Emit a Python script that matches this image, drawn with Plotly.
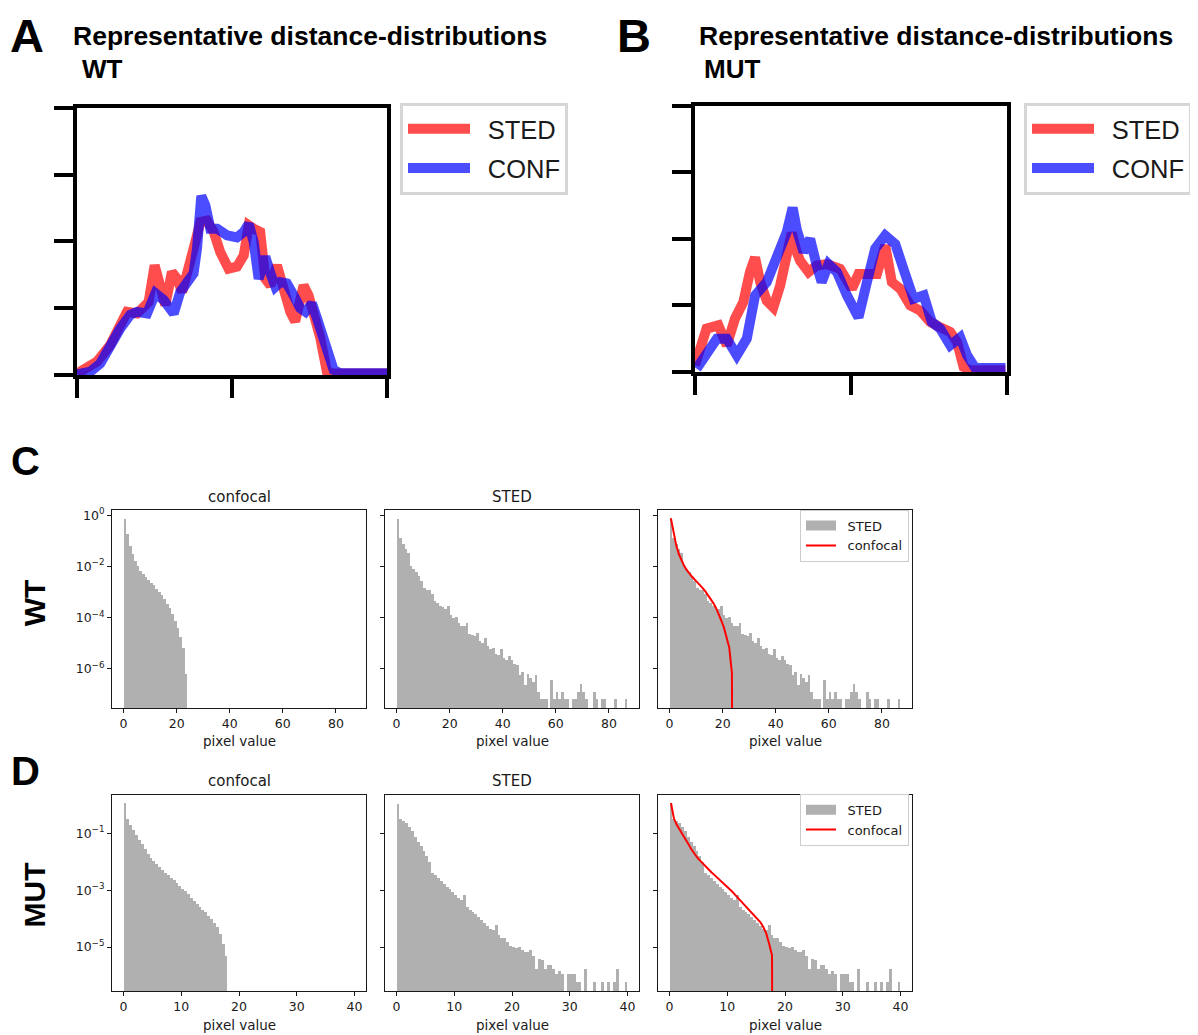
import plotly.graph_objects as go

W, H = 1198, 1035
OFF = 8                      # browser body margin
FW, FH = W - OFF, H - OFF    # figure size so the page fits the window

# ---------------- Panel A (WT) representative distance distributions ----------------
a_sted_x = [0, 6.45, 10.75, 13.98, 16.13, 19.35, 21.5, 23.1, 25.05, 26.9,
            28.5, 30.6, 32.3, 33.9, 35.5, 37.6, 39.8, 41.9, 44.1, 46.2,
            48.9, 51.6, 53.8, 55.4, 57.0, 59.1, 60.75, 62.4, 64.5, 66.7,
            68.8, 70.4, 71.5, 73.1, 74.7, 76.3, 78.5, 80.6, 82.8, 100]
a_sted_y = [0.02, 0.20, 0.45, 0.75, 0.945, 0.92, 1.0, 1.09, 1.64, 1.24,
            1.045, 1.54, 1.44, 1.24, 1.47, 1.89, 2.29, 2.31, 2.14, 1.84,
            1.59, 1.62, 1.79, 2.24, 2.19, 2.14, 1.44, 1.34, 1.64, 1.24,
            0.945, 0.80, 1.0, 1.34, 1.19, 0.945, 0.55, 0.05, 0.02, 0.02]
a_conf_x = [0, 4.3, 7.5, 10.75, 14.0, 17.2, 19.35, 22.6, 25.3, 27.96,
            31.2, 33.3, 35.5, 37.6, 38.7, 40.1, 41.4, 43.0, 45.2, 48.4,
            51.6, 53.8, 55.4, 57.0, 58.6, 60.75, 62.4, 64.0, 65.6, 67.7,
            69.9, 72.0, 73.7, 75.8, 77.4, 79.6, 82.8, 84.9, 100]
a_conf_y = [0.01, 0.05, 0.17, 0.45, 0.70, 0.90, 0.945, 0.92, 1.22, 1.12,
            0.92, 1.24, 1.39, 1.52, 1.89, 2.68, 2.54, 2.19, 2.19, 2.09,
            2.06, 2.14, 2.26, 1.99, 1.44, 1.77, 1.52, 1.32, 1.39, 1.37,
            1.19, 1.0, 0.945, 1.07, 0.85, 0.50, 0.075, 0.025, 0.025]

# ---------------- Panel B (MUT) representative distance distributions ----------------
b_sted_x = [0, 3.7, 7.5, 10.2, 12.8, 15.5, 17.6, 19.25, 20.9, 23.0,
            25.1, 27.3, 29.4, 31.0, 32.6, 33.7, 36.4, 39.0, 42.2, 46.5,
            50.3, 52.4, 55.6, 58.3, 60.95, 63.1, 65.8, 69.0, 72.2, 75.4,
            78.6, 81.8, 84.0, 86.1, 88.2, 99.5]
b_sted_y = [0.10, 0.65, 0.70, 0.40, 0.80, 1.05, 1.50, 1.72, 1.35, 1.07,
            0.97, 1.30, 1.75, 2.09, 1.80, 1.67, 1.50, 1.60, 1.62, 1.55,
            1.25, 1.47, 1.47, 1.47, 1.90, 1.35, 1.25, 1.00, 0.92, 0.75,
            0.67, 0.60, 0.45, 0.075, 0.025, 0.025]
b_conf_x = [0.5, 3.7, 7.0, 10.2, 13.4, 16.6, 19.25, 23.0, 26.7, 29.4,
            31.3, 32.6, 34.8, 36.9, 39.0, 40.6, 42.8, 45.5, 48.7, 52.4,
            55.1, 57.75, 60.95, 64.2, 66.8, 70.05, 73.3, 75.9, 78.6, 81.8,
            85.0, 87.2, 89.8, 99.5]
b_conf_y = [0.05, 0.30, 0.50, 0.50, 0.25, 0.50, 1.15, 1.35, 1.82, 2.10,
            2.47, 2.14, 1.80, 2.00, 1.60, 1.35, 1.62, 1.50, 1.15, 0.82,
            1.35, 1.85, 2.05, 1.92, 1.55, 1.10, 1.15, 0.75, 0.65, 0.40,
            0.52, 0.25, 0.06, 0.06]

# ---------------- Histograms (log10 of density, None = empty bin) ----------------
wt_bin_width = 1.0
mut_bin_width = 0.5

wt_conf_log10 = [-0.12, -0.73, -1.17, -1.52, -1.79, -1.98, -2.15, -2.29, -2.41, -2.52,
                 -2.62, -2.73, -2.85, -2.98, -3.12, -3.27, -3.44, -3.63, -3.86, -4.12,
                 -4.40, -4.74, -5.18, -6.18]

wt_sted_log10 = [-0.13, -0.86, -1.12, -1.30, -1.45, -1.98, -2.10, -2.22, -2.38, -2.55,
                 -2.82, -2.90, -2.92, -3.05, -3.35, -3.42, -3.52, -3.58, -3.66, -3.55,
                 -3.90, -4.02, -3.98, -4.20, -4.30, -4.33, -4.18, -4.62, -4.66, -4.72,
                 -4.60, -4.90, -4.98, -4.78, -5.10, -5.20, -5.18, -5.40, -5.45, -5.22,
                 -5.55, -5.65, -5.48, -5.65, -5.80, -5.85, -6.25, -6.12, -6.64, -6.19,
                 -6.35, -6.49, -6.25, -6.89, -7.19, -7.19, -7.19, None, -6.41, -7.19,
                 -6.89, -7.19, -6.89, -7.19, -7.19, None, -7.19, -7.19, -6.89, -6.59,
                 -6.89, -7.19, None, None, -6.89, -7.19, None, -7.19, -7.19, None,
                 None, None, -7.19, None, None, None, -7.19]

mut_conf_log10 = [0.07, -0.47, -0.70, -0.86, -1.06, -1.22, -1.37, -1.55, -1.70, -1.84,
                  -1.95, -2.06, -2.16, -2.27, -2.37, -2.46, -2.55, -2.64, -2.73, -2.83,
                  -2.93, -3.03, -3.14, -3.25, -3.36, -3.47, -3.57, -3.67, -3.77, -3.88,
                  -4.00, -4.13, -4.30, -4.52, -4.88, -5.29]

mut_sted_log10 = [0.06, -0.50, -0.56, -0.64, -0.76, -0.92, -1.10, -1.28, -1.45, -1.62,
                  -1.78, -1.98, -2.37, -2.46, -2.56, -2.66, -2.76, -2.86, -2.95, -3.05,
                  -3.15, -3.25, -3.35, -3.15, -3.58, -3.68, -3.76, -3.84, -3.92, -4.02,
                  -4.14, -4.25, -4.36, -4.40, -4.22, -4.55, -4.68, -4.66, -4.80, -4.95,
                  -5.00, -5.02, -5.00, -5.08, -5.15, -5.18, -5.08, -5.30, -5.76, -5.41,
                  -5.45, -5.76, -5.63, -5.63, -5.76, -5.94, -5.82, -5.94, None, -5.94,
                  -5.94, -5.94, -6.23, -6.23, None, -5.76, None, None, -6.23, None,
                  None, -6.23, None, -6.23, None, -6.23, -5.76, None, None, -6.23]

wt_xticks = [0, 20, 40, 60, 80]
mut_xticks = [0, 10, 20, 30, 40]
wt_yticks = [1e0, 1e-2, 1e-4, 1e-6]
wt_yticktext = ['10<sup>0</sup>', '10<sup>−2</sup>', '10<sup>−4</sup>', '10<sup>−6</sup>']
mut_yticks = [1e-1, 1e-3, 1e-5]
mut_yticktext = ['10<sup>−1</sup>', '10<sup>−3</sup>', '10<sup>−5</sup>']


def centers(vals, w):
    return [(i + 0.5) * w for i in range(len(vals))]


def dens(vals):
    return [10 ** v if v is not None else None for v in vals]


def px(x):
    return (x - OFF) / FW


def py(y):
    return 1 - (y - OFF) / FH


HIST_GRAY = 'rgb(176,176,176)'
RED_A = 'rgba(255,0,0,0.7)'
BLUE_A = 'rgba(0,0,255,0.7)'
SP = '\u2002'
fig = go.Figure()

# Panel A
fig.add_trace(go.Scatter(x=a_sted_x, y=a_sted_y, mode='lines', name=SP + 'STED',
                         line=dict(color=RED_A, width=10), legendgroup='a1',
                         xaxis='x', yaxis='y', legend='legend'))
fig.add_trace(go.Scatter(x=a_conf_x, y=a_conf_y, mode='lines', name=SP + 'CONF',
                         line=dict(color=BLUE_A, width=10), legendgroup='a2',
                         xaxis='x', yaxis='y', legend='legend'))
# Panel B
fig.add_trace(go.Scatter(x=b_sted_x, y=b_sted_y, mode='lines', name=SP + 'STED',
                         line=dict(color=RED_A, width=10), legendgroup='b1',
                         xaxis='x2', yaxis='y2', legend='legend2'))
fig.add_trace(go.Scatter(x=b_conf_x, y=b_conf_y, mode='lines', name=SP + 'CONF',
                         line=dict(color=BLUE_A, width=10), legendgroup='b2',
                         xaxis='x2', yaxis='y2', legend='legend2'))


def add_hist(vals, w, xa, ya):
    fig.add_trace(go.Bar(x=centers(vals, w), y=dens(vals), width=w,
                         marker=dict(color=HIST_GRAY, line=dict(width=0)),
                         showlegend=False, xaxis=xa, yaxis=ya))


def add_sted_key(xa, ya, legend):
    # legend entry for the STED histogram (matplotlib-style wide patch)
    fig.add_trace(go.Scatter(x=[None], y=[None], mode='lines', name=SP + 'STED',
                             line=dict(color=HIST_GRAY, width=10),
                             xaxis=xa, yaxis=ya, legend=legend))


def add_conf_line(vals, w, xa, ya, legend):
    xs = centers(vals, w) + [(len(vals) + 0.5) * w]
    ys = dens(vals) + [1e-30]
    fig.add_trace(go.Scatter(x=xs, y=ys, mode='lines', name=SP + 'confocal',
                             line=dict(color='red', width=2),
                             xaxis=xa, yaxis=ya, legend=legend))


# Row C (WT)
add_hist(wt_conf_log10, wt_bin_width, 'x3', 'y3')
add_hist(wt_sted_log10, wt_bin_width, 'x4', 'y4')
add_hist(wt_sted_log10, wt_bin_width, 'x5', 'y5')
add_sted_key('x5', 'y5', 'legend3')
add_conf_line(wt_conf_log10, wt_bin_width, 'x5', 'y5', 'legend3')
# Row D (MUT)
add_hist(mut_conf_log10, mut_bin_width, 'x6', 'y6')
add_hist(mut_sted_log10, mut_bin_width, 'x7', 'y7')
add_hist(mut_sted_log10, mut_bin_width, 'x8', 'y8')
add_sted_key('x8', 'y8', 'legend4')
add_conf_line(mut_conf_log10, mut_bin_width, 'x8', 'y8', 'legend4')


# ---------------- axes ----------------
def thick_axis(dom, rng, tv, anchor):
    return dict(domain=dom, range=rng, tickvals=tv, ticks='outside', ticklen=19,
                tickwidth=3.5, tickcolor='black', showline=True, linewidth=3.5,
                linecolor='black', mirror=True, showticklabels=False,
                showgrid=False, zeroline=False, anchor=anchor, fixedrange=True)


INK = '#1a1a1a'
TICKFONT = dict(family='DejaVu Sans', size=12.5, color=INK)


def hist_x(dom, rng, tv, anchor):
    return dict(domain=dom, range=rng, tickvals=tv, ticks='outside', ticklen=4,
                tickwidth=1, tickcolor=INK, showline=True, linewidth=1,
                linecolor=INK, mirror=True, showgrid=False, zeroline=False,
                tickfont=TICKFONT, anchor=anchor)


def hist_y(dom, rng, tv, tt, anchor, labels):
    return dict(domain=dom, type='log', range=rng, tickvals=tv, ticktext=tt,
                ticks='outside', ticklen=4, tickwidth=1, tickcolor=INK,
                showline=True, linewidth=1, linecolor=INK, mirror=True,
                showgrid=False, zeroline=False, tickfont=TICKFONT,
                showticklabels=labels, anchor=anchor)


colx = [(112, 366), (385, 639), (658, 912)]
rowC = (707, 508)
rowD = (991, 794)
wt_xrange = [-4.35, 91.35]
mut_xrange = [-2.0, 42.0]
wt_yrange = [-7.54, 0.22]
mut_yrange = [-6.55, 0.36]

layout_axes = {}
layout_axes['xaxis'] = thick_axis([px(77), px(387)], [0, 100], [0, 50, 100], 'y')
layout_axes['yaxis'] = thick_axis([py(373), py(105)], [0, 4], [0, 1, 2, 3, 4], 'x')
layout_axes['xaxis2'] = thick_axis([px(695), px(1007)], [0, 100], [0, 50, 100], 'y2')
layout_axes['yaxis2'] = thick_axis([py(370), py(103)], [0, 4], [0, 1, 2, 3, 4], 'x2')
for i, (x0, x1) in enumerate(colx):
    n = 3 + i
    layout_axes[f'xaxis{n}'] = hist_x([px(x0), px(x1)], wt_xrange, wt_xticks, f'y{n}')
    layout_axes[f'yaxis{n}'] = hist_y([py(rowC[0]), py(rowC[1])], wt_yrange, wt_yticks,
                                      wt_yticktext, f'x{n}', i == 0)
    m = 6 + i
    layout_axes[f'xaxis{m}'] = hist_x([px(x0), px(x1)], mut_xrange, mut_xticks, f'y{m}')
    layout_axes[f'yaxis{m}'] = hist_y([py(rowD[0]), py(rowD[1])], mut_yrange, mut_yticks,
                                      mut_yticktext, f'x{m}', i == 0)

# ---------------- annotations ----------------
ann = []


def text(t, x, y, size, family='Liberation Sans', xanchor='left', angle=0, color='black'):
    ann.append(dict(text=t, x=px(x), y=py(y), xref='paper', yref='paper',
                    xanchor=xanchor, yanchor='middle', showarrow=False,
                    textangle=angle, font=dict(family=family, size=size, color=color)))


text('<b>A</b>', 8, 33, 47)
text('<b>Representative distance-distributions</b>', 71, 33, 26.5)
text('<b>WT</b>', 80, 66, 26)
text('<b>B</b>', 615, 33, 47)
text('<b>Representative distance-distributions</b>', 697, 33, 26.5)
text('<b>MUT</b>', 702, 66, 26)
text('<b>C</b>', 9, 459, 40)
text('<b>D</b>', 9, 770, 40)
text('<b>WT</b>', 34, 602, 30, xanchor='center', angle=-90)
text('<b>MUT</b>', 34, 895, 30, xanchor='center', angle=-90)

DV = 'DejaVu Sans'
for yy in (495, 780):
    text('confocal', 239, yy, 15, DV, 'center', color=INK)
    text('STED', 512, yy, 15, DV, 'center', color=INK)
for yy in (740, 1025):
    for (x0, x1) in colx:
        text('pixel value', (x0 + x1) / 2, yy, 13.5, DV, 'center', color=INK)

big_legend = dict(xanchor='left', yanchor='top', bgcolor='white',
                  bordercolor='#d6d6d6', borderwidth=3,
                  font=dict(family='Liberation Sans', size=25.5, color=INK),
                  itemwidth=62, traceorder='grouped', tracegroupgap=3)
small_legend = dict(xanchor='left', yanchor='top', bgcolor='rgba(255,255,255,0.8)',
                    bordercolor='#cccccc', borderwidth=1,
                    font=dict(family=DV, size=13, color=INK),
                    itemwidth=30)

fig.update_layout(
    width=FW, height=FH, autosize=False,
    margin=dict(l=0, r=0, t=0, b=0),
    paper_bgcolor='white', plot_bgcolor='white',
    barmode='overlay', bargap=0,
    annotations=ann,
    legend=dict(x=px(400), y=py(100), **big_legend),
    legend2=dict(x=px(1024), y=py(100), **big_legend),
    legend3=dict(x=px(800), y=py(508), **small_legend),
    legend4=dict(x=px(800), y=py(793), **small_legend),
    **layout_axes,
)

fig.write_html('out.html')
